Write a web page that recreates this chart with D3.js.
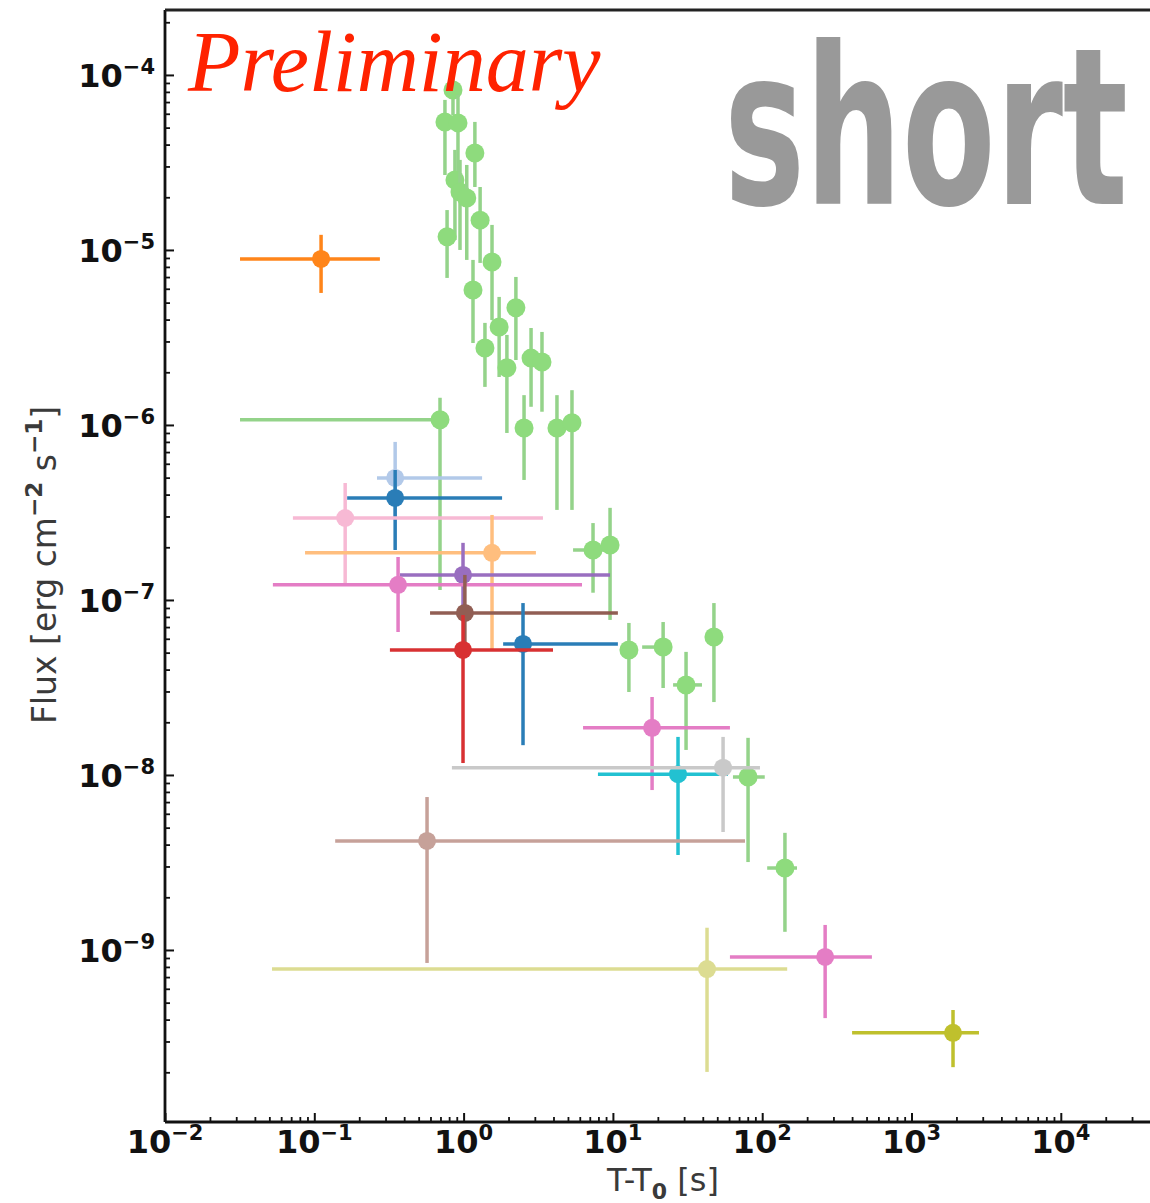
<!DOCTYPE html>
<html>
<head>
<meta charset="utf-8">
<script src="https://cdn.jsdelivr.net/npm/d3@7"></script>
<style>
  html, body { margin: 0; padding: 0; background: #fff; }
  svg { display: block; }
</style>
</head>
<body>
<svg id="chart" width="1150" height="1203"></svg>
<script>
// ---- Light-curve flux points: the long, well-sampled burst (light green) ----
const burstT    = [0.849, 0.75, 0.917, 1.19, 0.875, 0.946, 1.05, 1.29, 0.775, 1.55, 1.156, 2.24, 1.73, 1.39, 1.95, 2.83, 3.35, 0.695, 2.54, 4.22, 5.32, 7.36, 9.57, 12.8, 21.7, 30.9, 47.5, 80.4, 142];
const burstTLo  = [null, null, null, null, null, null, null, null, null, null, null, null, null, null, null, null, null, 0.0318, null, null, null, 5.41, null, null, 15.7, 25.3, null, 63.7, 108];
const burstTHi  = [null, null, null, null, null, null, null, null, null, null, null, null, null, null, null, null, null, 0.775, null, null, null, 9.14, null, null, 24, 39.5, null, 104, 171];
const burstF    = [8.2e-5, 5.39e-5, 5.32e-5, 3.58e-5, 2.51e-5, 2.14e-5, 1.98e-5, 1.48e-5, 1.19e-5, 8.54e-6, 5.91e-6, 4.67e-6, 3.63e-6, 2.75e-6, 2.12e-6, 2.41e-6, 2.29e-6, 1.07e-6, 9.6e-7, 9.6e-7, 1.03e-6, 1.93e-7, 2.06e-7, 5.18e-8, 5.38e-8, 3.27e-8, 6.15e-8, 9.74e-9, 2.94e-9];
const burstFLo  = [5.9e-5, 2.68e-5, 1.93e-5, 2.29e-5, 1.14e-5, 1.0e-5, 8.77e-6, 8.43e-6, 6.92e-6, 3.98e-6, 2.94e-6, 2.35e-6, 1.88e-6, 1.65e-6, 9.0e-7, 1.27e-6, 1.19e-6, 1.14e-7, 4.85e-7, 3.27e-7, 3.27e-7, 1.10e-7, 7.69e-8, 2.98e-8, 3.14e-8, 1.39e-8, 2.61e-8, 3.18e-9, 1.27e-9];
const burstFHi  = [1.0e-4, 7.2e-5, 7.7e-5, 5.39e-5, 3.73e-5, 3.27e-5, 3.06e-5, 2.29e-5, 1.69e-5, 1.39e-5, 8.77e-6, 7.01e-6, 5.39e-6, 3.83e-6, 3.27e-6, 3.58e-6, 3.40e-6, 1.43e-6, 1.48e-6, 1.48e-6, 1.58e-6, 2.75e-7, 3.36e-7, 7.39e-8, 7.48e-8, 5.05e-8, 9.6e-8, 1.63e-8, 4.67e-9];

// ---- Single-point bursts ----
const pointColors = ["#ff7f0e", "#aec7e8", "#1f77b4", "#f7b6d2", "#ffbb78", "#9467bd", "#e377c2", "#8c564b", "#1f77b4", "#d62728", "#e377c2", "#17becf", "#c7c7c7", "#c49c94", "#dbdb8d", "#e377c2", "#bcbd22"];
const pointT    = [0.111, 0.348, 0.348, 0.161, 1.55, 0.991, 0.364, 1.02, 2.50, 0.991, 18.3, 27.3, 54.7, 0.569, 42.7, 264, 1897];
const pointTLo  = [0.0318, 0.263, 0.166, 0.0719, 0.0867, 0.375, 0.0528, 0.596, 1.84, 0.321, 6.31, 7.94, 0.835, 0.138, 0.0521, 60.8, 400];
const pointTHi  = [0.275, 1.33, 1.81, 3.40, 3.05, 9.57, 6.21, 10.8, 10.8, 3.97, 60.8, 59.0, 96.6, 76.7, 147, 543, 2831];
const pointF    = [8.88e-6, 4.98e-7, 3.83e-7, 2.94e-7, 1.86e-7, 1.39e-7, 1.22e-7, 8.43e-8, 5.61e-8, 5.18e-8, 1.86e-8, 1.01e-8, 1.10e-8, 4.2e-9, 7.78e-10, 9.12e-10, 3.36e-10];
const pointFLo  = [5.68e-6, 2.86e-7, 1.93e-7, 1.25e-7, 5.18e-8, 8.43e-8, 6.56e-8, 5.18e-8, 1.48e-8, 1.17e-8, 8.2e-9, 3.49e-9, 4.72e-9, 8.43e-10, 2.01e-10, 4.08e-10, 2.14e-10];
const pointFHi  = [1.22e-5, 8.0e-7, 5.53e-7, 4.66e-7, 3.06e-7, 2.12e-7, 1.76e-7, 1.39e-7, 9.6e-8, 8.2e-8, 2.79e-8, 1.65e-8, 1.65e-8, 7.48e-9, 1.34e-9, 1.39e-9, 4.54e-10];

// ---- Axis ticks ----
const xMajor = [1e-2, 1e-1, 1e0, 1e1, 1e2, 1e3, 1e4];
const xExps  = ["\u22122", "\u22121", "0", "1", "2", "3", "4"];
const yMajor = [1e-4, 1e-5, 1e-6, 1e-7, 1e-8, 1e-9];
const yExps  = ["\u22124", "\u22125", "\u22126", "\u22127", "\u22128", "\u22129"];

const X_DOMAIN = [1e-2, 4.6e4];
const Y_DOMAIN = [1.04e-10, 2.35e-4];

const svg = d3.select("#chart");
const plotLeft = 165, plotTop = 10, plotBottom = 1122;
const decadePx = 149.3;
const plotRight = plotLeft + Math.log10(X_DOMAIN[1] / X_DOMAIN[0]) * decadePx;

const x = d3.scaleLog().domain(X_DOMAIN).range([plotLeft, plotRight]);
const y = d3.scaleLog().domain(Y_DOMAIN).range([plotBottom, plotTop]);

const tickFont = "'DejaVu Sans', sans-serif";

// Minor tick values for a log range: 2..9 × 10^k
function minorTicks(lo, hi) {
  const out = [];
  for (let e = Math.floor(Math.log10(lo)); e <= Math.ceil(Math.log10(hi)); e++) {
    for (let m = 2; m <= 9; m++) {
      const v = m * Math.pow(10, e);
      if (v > lo && v < hi) out.push(v);
    }
  }
  return out;
}

// ---- Big category word (behind data), squeezed horizontally to a fixed width ----
const wordG = svg.append("g");
const word = wordG.append("text")
  .attr("x", 0).attr("y", 0)
  .attr("font-family", "'DejaVu Sans Condensed', 'DejaVu Sans', sans-serif")
  .attr("font-weight", "bold")
  .attr("font-size", 220)
  .attr("fill", "#999999")
  .text("short");
const wordLen = word.node().getComputedTextLength() || 590;
wordG.attr("transform", `translate(724,204) scale(${404 / wordLen},1)`);

// ---- Data ----
const plot = svg.append("g");

function drawPoint(g, color, lineColor, t, tLo, tHi, f, fLo, fHi, r) {
  if (tLo != null && tHi != null) {
    g.append("line")
      .attr("x1", x(tLo)).attr("x2", x(tHi))
      .attr("y1", y(f)).attr("y2", y(f))
      .attr("stroke", lineColor).attr("stroke-width", 3.5);
  }
  g.append("line")
    .attr("x1", x(t)).attr("x2", x(t))
    .attr("y1", y(fLo)).attr("y2", y(fHi))
    .attr("stroke", lineColor).attr("stroke-width", 3.5);
  g.append("circle")
    .attr("cx", x(t)).attr("cy", y(f)).attr("r", r)
    .attr("fill", color);
}

const burstG = plot.append("g").attr("opacity", 0.95);
burstT.forEach((t, i) => {
  drawPoint(burstG, "#88da77", "#8fd184", t, burstTLo[i], burstTHi[i], burstF[i], burstFLo[i], burstFHi[i], 9.5);
});

const ptG = plot.append("g").attr("opacity", 0.95);
pointT.forEach((t, i) => {
  const c = pointColors[i];
  drawPoint(ptG, c, c, t, pointTLo[i], pointTHi[i], pointF[i], pointFLo[i], pointFHi[i], 9);
});

// ---- Frame and axes ----
const axG = svg.append("g");

// x axis (ticks pointing inward)
axG.append("g")
  .attr("transform", `translate(0,${plotBottom})`)
  .call(d3.axisBottom(x).tickValues(minorTicks(X_DOMAIN[0], X_DOMAIN[1])).tickSize(-5).tickFormat(""))
  .call(g => g.select(".domain").remove())
  .selectAll("line").attr("stroke", "#111").attr("stroke-width", 1.8);

axG.append("g")
  .attr("transform", `translate(0,${plotBottom})`)
  .call(d3.axisBottom(x).tickValues(xMajor).tickSize(-9).tickFormat(""))
  .call(g => g.select(".domain").remove())
  .selectAll("line").attr("stroke", "#111").attr("stroke-width", 2);

// y axis (ticks pointing inward)
axG.append("g")
  .attr("transform", `translate(${plotLeft},0)`)
  .call(d3.axisLeft(y).tickValues(minorTicks(Y_DOMAIN[0], Y_DOMAIN[1])).tickSize(-5).tickFormat(""))
  .call(g => g.select(".domain").remove())
  .selectAll("line").attr("stroke", "#111").attr("stroke-width", 1.8);

axG.append("g")
  .attr("transform", `translate(${plotLeft},0)`)
  .call(d3.axisLeft(y).tickValues(yMajor).tickSize(-9).tickFormat(""))
  .call(g => g.select(".domain").remove())
  .selectAll("line").attr("stroke", "#111").attr("stroke-width", 2);

// spines
axG.append("line").attr("x1", plotLeft).attr("x2", plotLeft).attr("y1", plotTop).attr("y2", plotBottom)
  .attr("stroke", "#111").attr("stroke-width", 2.8);
axG.append("line").attr("x1", plotLeft).attr("x2", plotRight + 10).attr("y1", plotBottom).attr("y2", plotBottom)
  .attr("stroke", "#111").attr("stroke-width", 2.8);
axG.append("line").attr("x1", plotLeft).attr("x2", plotRight + 10).attr("y1", plotTop).attr("y2", plotTop)
  .attr("stroke", "#222").attr("stroke-width", 3.2);

// x tick labels
const xl = axG.append("g").selectAll("text").data(xMajor).join("text")
  .attr("x", d => x(d))
  .attr("y", plotBottom + 31)
  .attr("text-anchor", "middle")
  .attr("font-family", tickFont).attr("font-weight", "bold")
  .attr("font-size", 32).attr("fill", "#111");
xl.append("tspan").text("10");
xl.append("tspan").attr("font-size", 21).attr("dy", -13).text((d, i) => xExps[i]);

// y tick labels
const yl = axG.append("g").selectAll("text").data(yMajor).join("text")
  .attr("x", 155)
  .attr("y", d => y(d) + 12)
  .attr("text-anchor", "end")
  .attr("font-family", tickFont).attr("font-weight", "bold")
  .attr("font-size", 32).attr("fill", "#111");
yl.append("tspan").text("10");
yl.append("tspan").attr("font-size", 21).attr("dy", -13).text((d, i) => yExps[i]);

// axis titles
const xt = svg.append("text")
  .attr("x", 663).attr("y", 1191)
  .attr("text-anchor", "middle")
  .attr("font-family", tickFont).attr("font-size", 32).attr("fill", "#3a3a3a");
xt.append("tspan").text("T-T");
xt.append("tspan").attr("font-size", 22).attr("font-weight", "bold").attr("dy", 8).text("0");
xt.append("tspan").attr("dy", -8).text(" [s]");

const yt = svg.append("text")
  .attr("transform", "translate(56,565) rotate(-90)")
  .attr("text-anchor", "middle")
  .attr("font-family", tickFont).attr("font-size", 33).attr("fill", "#3a3a3a");
yt.append("tspan").text("Flux [erg cm");
yt.append("tspan").attr("font-size", 23).attr("font-weight", "bold").attr("dy", -14).text("\u22122");
yt.append("tspan").attr("dy", 14).text(" s");
yt.append("tspan").attr("font-size", 23).attr("font-weight", "bold").attr("dy", -14).text("\u22121");
yt.append("tspan").attr("dy", 14).text("]");

// preliminary stamp on top
svg.append("text")
  .attr("x", 188).attr("y", 91)
  .attr("font-family", "'Liberation Serif', 'Times New Roman', serif")
  .attr("font-style", "italic")
  .attr("font-size", 86)
  .attr("fill", "#ff2200")
  .text("Preliminary");
</script>
</body>
</html>
